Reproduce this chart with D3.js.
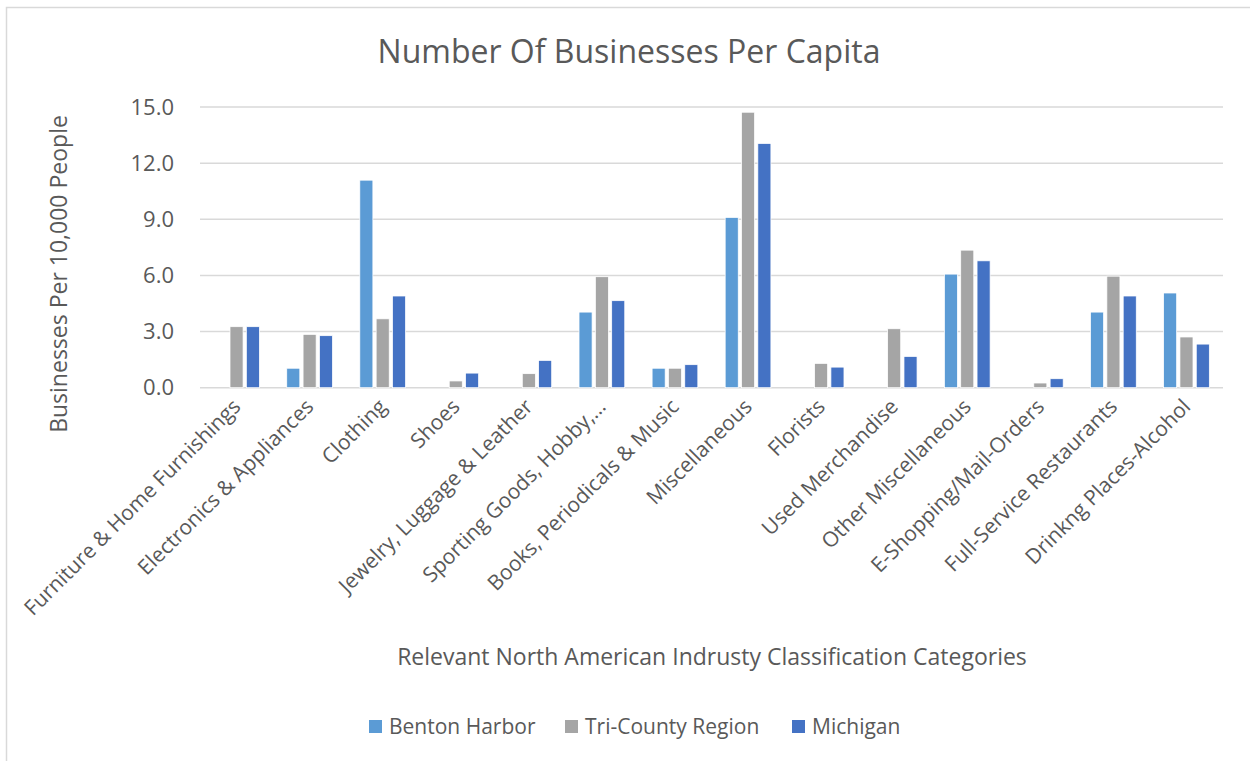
<!DOCTYPE html>
<html>
<head>
<meta charset="utf-8">
<script src="https://cdnjs.cloudflare.com/ajax/libs/d3/7.8.5/d3.min.js"></script>
<style>
  body { margin: 0; background: #fff; }
  text { font-family: "Open Sans", sans-serif; fill: #595959; }
</style>
</head>
<body>
<div id="chart"></div>
<script>
// categories and series
const categories = [
    "Furniture & Home Furnishings", "Electronics & Appliances", "Clothing", "Shoes",
    "Jewelry, Luggage & Leather", "Sporting Goods, Hobby,\u2026", "Books, Periodicals & Music",
    "Miscellaneous", "Florists", "Used Merchandise", "Other Miscellaneous",
    "E-Shopping/Mail-Orders", "Full-Service Restaurants", "Drinkng Places-Alcohol"
];
const seriesNames = ["Benton Harbor", "Tri-County Region", "Michigan"];
const seriesColors = ["#5B9BD5", "#A5A5A5", "#4472C4"];
const bentonHarbor = [0, 1.04, 11.09, 0, 0, 4.04, 1.04, 9.10, 0, 0, 6.07, 0, 4.04, 5.06];
const triCounty = [3.26, 2.85, 3.68, 0.36, 0.75, 5.93, 1.04, 14.72, 1.30, 3.15, 7.35, 0.25, 5.96, 2.71];
const michigan = [3.26, 2.78, 4.90, 0.78, 1.46, 4.65, 1.23, 13.05, 1.10, 1.67, 6.78, 0.48, 4.90, 2.33];
const yTicks = [0, 3, 6, 9, 12, 15];

const chartTitle = "Number Of Businesses Per Capita";
const yTitle = "Businesses Per 10,000 People";
const xTitle = "Relevant North American Indrusty Classification Categories";

const width = 1250, height = 761;
const margin = { left: 200, right: 27, top: 107, bottom: 373 };

const rows = categories.map((c, i) => ({
    cat: c,
    values: [bentonHarbor[i], triCounty[i], michigan[i]]
}));

const svg = d3.select("#chart")
    .append("svg")
    .attr("width", width)
    .attr("height", height);

// chart area border
svg.append("rect")
    .attr("x", 6.5).attr("y", 7.5)
    .attr("width", width + 20).attr("height", height + 20)
    .attr("fill", "#fff")
    .attr("stroke", "#D9D9D9")
    .attr("stroke-width", 1.5);

const x0 = d3.scaleBand()
    .domain(categories)
    .range([margin.left, width - margin.right]);

const groupW = 49;
const x1 = d3.scaleBand()
    .domain(d3.range(seriesNames.length))
    .range([(x0.bandwidth() - groupW) / 2, (x0.bandwidth() + groupW) / 2])
    .paddingInner(0.2)
    .paddingOuter(0.1);

const y = d3.scaleLinear()
    .domain([0, 15])
    .range([height - margin.bottom - 0.3, margin.top]);

// gridlines
svg.append("g")
    .selectAll("line")
    .data(yTicks)
    .enter()
    .append("line")
    .attr("x1", margin.left)
    .attr("x2", width - margin.right)
    .attr("y1", d => y(d))
    .attr("y2", d => y(d))
    .attr("stroke", "#D9D9D9")
    .attr("stroke-width", 1.5);

// y axis labels
const yAxis = svg.append("g")
    .attr("transform", "translate(" + (margin.left - 23) + ",0)")
    .call(d3.axisLeft(y).tickValues(yTicks).tickFormat(d3.format(".1f")).tickSize(0));
yAxis.select(".domain").remove();
yAxis.selectAll("text")
    .style("font-size", "22px")
    .style("font-family", "'Open Sans', sans-serif")
    .attr("fill", "#595959")
    .attr("dx", 0);

// bars
const groups = svg.append("g")
    .selectAll("g")
    .data(rows)
    .enter()
    .append("g")
    .attr("transform", d => "translate(" + x0(d.cat) + ",0)");

groups.selectAll("rect")
    .data(d => d.values.map((v, i) => ({ v: v, i: i })))
    .enter()
    .append("rect")
    .attr("x", d => x1(d.i))
    .attr("width", x1.bandwidth())
    .attr("y", d => y(d.v))
    .attr("height", d => y(0) - y(d.v))
    .attr("fill", d => seriesColors[d.i])
    .attr("stroke", "#fff")
    .attr("stroke-width", 0.75)
    .style("display", d => d.v > 0 ? null : "none");

// category labels, rotated
svg.append("g")
    .selectAll("text")
    .data(categories)
    .enter()
    .append("text")
    .attr("transform", d => "translate(" + (x0(d) + x0.bandwidth() / 2) + "," + (y(0) + 15) + ") rotate(-45)")
    .attr("text-anchor", "end")
    .attr("dy", "0.35em")
    .style("font-size", "21px")
    .text(d => d);

// titles
svg.append("text")
    .attr("x", 629).attr("y", 63)
    .attr("text-anchor", "middle")
    .style("font-size", "32px")
    .text(chartTitle);

svg.append("text")
    .attr("transform", "translate(67,274) rotate(-90)")
    .attr("text-anchor", "middle")
    .style("font-size", "23px")
    .text(yTitle);

svg.append("text")
    .attr("x", 712).attr("y", 665)
    .attr("text-anchor", "middle")
    .style("font-size", "23px")
    .text(xTitle);

// legend
const legendX = [369, 565, 792];
const legend = svg.append("g")
    .selectAll("g")
    .data(seriesNames)
    .enter()
    .append("g")
    .attr("transform", (d, i) => "translate(" + legendX[i] + ",720)");

legend.append("rect")
    .attr("width", 13).attr("height", 13)
    .attr("fill", (d, i) => seriesColors[i]);

legend.append("text")
    .attr("x", 20).attr("y", 7)
    .attr("dy", "0.35em")
    .style("font-size", "21px")
    .text(d => d);
</script>
</body>
</html>
